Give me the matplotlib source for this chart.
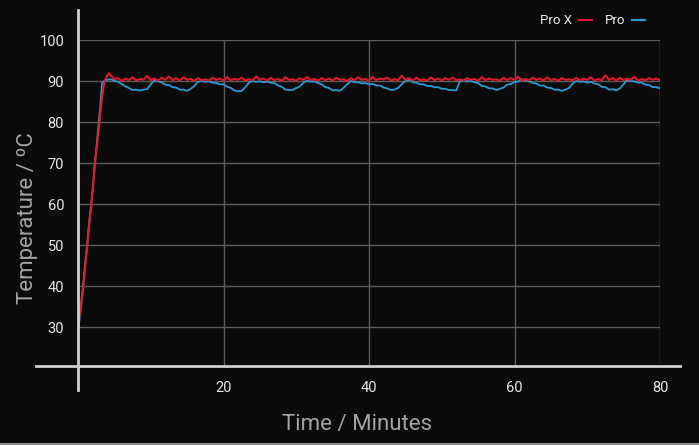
import numpy as np
import matplotlib
matplotlib.use("Agg")
import matplotlib.pyplot as plt
from matplotlib.lines import Line2D

# ---- data ----
series_names = ["Pro X", "Pro"]

# warm-up ramp
ramp_t_prox = [0, 0.15, 0.3, 0.5, 0.75, 1.0, 1.3, 1.55, 1.85, 2.1, 2.35, 2.65, 2.95, 3.2, 3.5, 3.75, 4.0, 4.25]
ramp_prox = [31, 33.5, 33, 36, 40, 45, 50, 55, 60, 65, 70, 75, 80, 84.5, 88.5, 90.3, 91.3, 91.9]

ramp_t_pro = [0, 0.1, 0.3, 0.5, 0.7, 0.95, 1.25, 1.5, 1.8, 2.05, 2.3, 2.55, 2.85, 3.05, 3.3, 3.6, 4.0]
ramp_pro = [28.5, 30, 33.5, 37, 40, 45, 50, 55, 60, 64, 70, 74, 80, 83.5, 89.5, 90.0, 90.3]

# hold phase, one reading every half minute from 4.5 to 80 min
hold_t = np.arange(4.5, 80.01, 0.5)

hold_prox = [
    91.4, 90.4, 90.7, 90.0, 90.6, 90.2, 90.9, 90.1, 90.5, 90.3,
    91.2, 90.2, 90.6, 90.1, 90.8, 90.3, 91.1, 90.2, 90.7, 90.1,
    90.9, 90.3, 90.5, 90.0, 90.7, 90.2, 90.4, 90.1, 90.8, 90.3,
    90.6, 90.1, 91.0, 90.2, 90.5, 90.3, 90.8, 90.1, 90.4, 90.2,
    91.1, 90.3, 90.6, 90.1, 90.8, 90.2, 90.5, 90.0, 90.9, 90.3,
    90.4, 90.1, 90.7, 90.3, 91.0, 90.2, 90.5, 90.1, 90.7, 90.2,
    90.6, 90.1, 90.8, 90.3, 90.4, 90.0, 90.7, 90.2, 90.9, 90.3,
    90.5, 90.1, 91.0, 90.2, 90.6, 90.4, 90.8, 90.1, 90.5, 90.2,
    91.3, 90.3, 90.7, 90.1, 90.8, 90.2, 90.4, 90.1, 90.9, 90.2,
    90.6, 90.1, 90.7, 90.3, 90.8, 90.2, 90.4, 90.1, 90.7, 90.3,
    90.5, 90.1, 90.9, 90.2, 90.6, 90.3, 90.4, 90.1, 90.8, 90.2,
    90.7, 90.3, 91.0, 90.1, 90.5, 90.2, 90.8, 90.3, 90.6, 90.1,
    90.9, 90.2, 90.5, 90.1, 90.7, 90.3, 90.4, 90.2, 90.8, 90.1,
    90.6, 90.3, 90.9, 90.1, 90.5, 90.2, 91.4, 90.3, 90.7, 90.1,
    90.8, 90.2, 90.6, 90.3, 91.0, 90.1, 90.5, 90.2, 90.7, 90.3,
    90.6, 90.2,
]

hold_pro = [
    90.4, 90.1, 89.8, 89.3, 88.7, 88.3, 87.8, 87.9, 87.7, 87.9,
    88.0, 89.2, 90.2, 89.9, 89.7, 89.1, 89.0, 88.5, 88.4, 87.9,
    87.9, 87.6, 88.1, 88.8, 89.8, 90.0, 89.8, 89.9, 89.6, 89.5,
    89.2, 89.2, 88.6, 88.3, 87.7, 87.5, 87.6, 88.5, 89.6, 90.0,
    89.8, 89.9, 89.7, 89.8, 89.6, 89.5, 88.9, 88.6, 87.9, 87.8,
    87.8, 88.3, 88.7, 89.6, 90.1, 89.8, 89.9, 89.5, 89.2, 88.5,
    88.3, 87.7, 87.8, 87.6, 88.3, 89.2, 90.0, 89.7, 89.7, 89.4,
    89.5, 89.2, 89.3, 88.9, 88.9, 88.4, 88.2, 87.8, 87.9, 88.3,
    89.2, 90.0, 90.3, 89.7, 89.6, 89.2, 89.2, 88.8, 88.8, 88.5,
    88.5, 88.1, 88.1, 87.8, 87.8, 87.7, 90.0, 90.2, 89.9, 90.0,
    89.7, 89.5, 88.8, 88.7, 88.2, 88.2, 87.8, 88.1, 88.4, 89.1,
    89.3, 89.7, 89.9, 90.4, 90.2, 90.0, 89.5, 89.4, 88.9, 88.9,
    88.4, 88.3, 87.9, 87.9, 87.6, 87.9, 88.3, 89.4, 90.0, 89.8,
    89.9, 89.6, 89.8, 89.4, 89.2, 88.6, 88.5, 87.9, 88.0, 87.7,
    88.2, 89.2, 90.3, 90.0, 89.9, 89.6, 89.6, 89.1, 89.0, 88.5,
    88.5, 88.2,
]

x_ticks = [20, 40, 60, 80]
y_ticks = [30, 40, 50, 60, 70, 80, 90, 100]

bg = "#0c0b0b"
red = "#e0192f"
blue = "#2b9bd3"

plt.rcParams["font.family"] = ["Roboto", "DejaVu Sans"]

fig = plt.figure(figsize=(6.99, 4.45), dpi=100, facecolor=bg)
ax = fig.add_axes([78 / 699, 79 / 445, 582 / 699, 326 / 445])
ax.set_facecolor(bg)

t_prox = list(ramp_t_prox) + list(hold_t)
v_prox = ramp_prox + hold_prox
t_pro = list(ramp_t_pro) + list(hold_t)
v_pro = ramp_pro + hold_pro

ax.plot(t_pro, v_pro, color=blue, lw=1.3, zorder=3)
ax.plot(t_prox, v_prox, color=red, lw=1.5, zorder=4)

ax.set_xlim(0, 80)
ax.set_ylim(20.5, 100)
ax.set_xticks(x_ticks)
ax.set_yticks(y_ticks)
ax.grid(True, color="#5c5c5c", lw=1.0)
ax.set_axisbelow(True)
ax.tick_params(length=0, colors="#e6e6e6", labelsize=10.5)
ax.tick_params(axis="x", pad=11)
ax.tick_params(axis="y", pad=10)

for s in ax.spines.values():
    s.set_visible(False)

# axis lines that run past the plot area
ax.add_line(Line2D([0, 0], [-0.074, 1.092], transform=ax.transAxes,
                   color="#d0d0d0", lw=2, clip_on=False, zorder=5))
ax.add_line(Line2D([-0.072, 1.034], [0, 0], transform=ax.transAxes,
                   color="#d0d0d0", lw=2, clip_on=False, zorder=5))

# thin frame edge along the bottom of the picture
fig.add_artist(Line2D([0, 1], [1.5 / 445, 1.5 / 445], transform=fig.transFigure,
                      color="#8a8a8a", lw=1.5))

ax.set_xlabel("Time / Minutes", color="#a3a3a3", fontsize=16)
ax.set_ylabel("Temperature / ºC", color="#a3a3a3", fontsize=16)
ax.xaxis.set_label_coords(0.479, -0.146)
ax.yaxis.set_label_coords(-0.068, 0.454)

handles = [Line2D([], [], color=red, lw=1.5), Line2D([], [], color=blue, lw=1.5)]
ax.legend(handles, series_names, loc="upper right", bbox_to_anchor=(0.995, 1.115),
          ncol=2, frameon=False, markerfirst=False, handlelength=1.0,
          handletextpad=0.5, columnspacing=1.0, fontsize=9.5, labelcolor="#f0f0f0")

fig.savefig("out.png", dpi=100, facecolor=bg)
